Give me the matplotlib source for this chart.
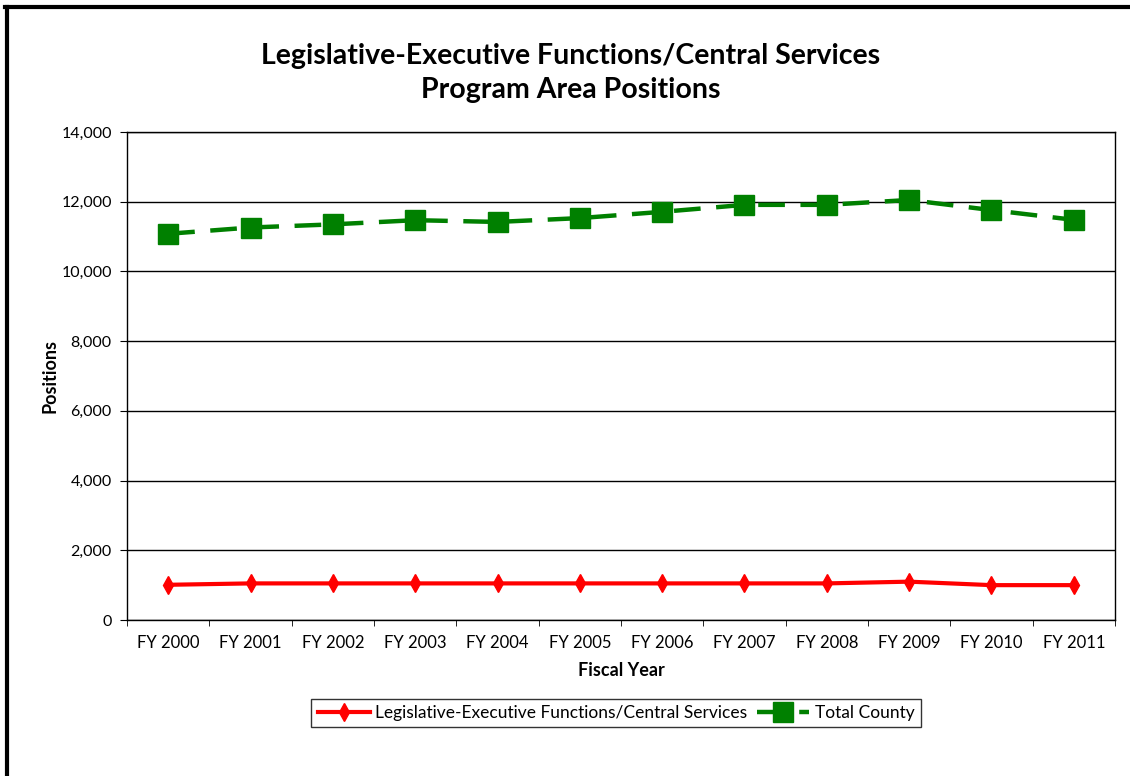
import matplotlib.pyplot as plt
from matplotlib.lines import Line2D

years = ["FY 2000", "FY 2001", "FY 2002", "FY 2003", "FY 2004", "FY 2005",
         "FY 2006", "FY 2007", "FY 2008", "FY 2009", "FY 2010", "FY 2011"]
leg_exec = [1010, 1050, 1050, 1050, 1050, 1050, 1050, 1050, 1050, 1100, 1000, 1000]
total_county = [11080, 11260, 11350, 11470, 11420, 11530, 11710, 11910, 11910, 12050, 11760, 11480]

plt.rcParams['font.family'] = ['Lato', 'DejaVu Sans']

fig = plt.figure(figsize=(11.3, 7.76), dpi=100)
ax = fig.add_axes([127 / 1130, 1 - 620 / 776, 988 / 1130, 488 / 776])

x = list(range(len(years)))
ax.plot(x, leg_exec, color='#ff0000', lw=3, marker='d', markersize=9,
        label="Legislative-Executive Functions/Central Services")
ax.plot(x, total_county, color='#008000', lw=3.2, marker='s', markersize=14,
        dashes=(6, 3.5), label="Total County")

ax.set_xlim(-0.5, len(years) - 0.5)
ax.set_ylim(0, 14000)
ax.set_yticks(range(0, 14001, 2000))
ax.set_yticklabels([f"{v:,}" for v in range(0, 14001, 2000)], fontsize=11.5)
ax.set_xticks(x)
ax.set_xticklabels(years, fontsize=12)
ax.set_xticks([i - 0.5 for i in range(len(years) + 1)], minor=True)
ax.tick_params(axis='x', which='major', length=0, pad=11)
ax.tick_params(axis='x', which='minor', length=4, direction='out')
ax.tick_params(axis='y', length=5, direction='out', pad=6)
ax.grid(axis='y', color='black', lw=1)
ax.set_axisbelow(True)
for s in ax.spines.values():
    s.set_color('black')
    s.set_linewidth(1)

ax.set_xlabel("Fiscal Year", fontsize=13, fontweight='bold', labelpad=8)
ax.set_ylabel("Positions", fontsize=13, fontweight='bold', labelpad=2)

fig.text(571 / 1130, 1 - 73 / 776, "Legislative-Executive Functions/Central Services\nProgram Area Positions",
         ha='center', va='center', fontsize=20.5, fontweight='bold', linespacing=1.38)

leg = fig.legend(loc='center', bbox_to_anchor=(616 / 1130, 1 - 713 / 776), ncol=2,
                 frameon=True, fancybox=False, edgecolor='black', fontsize=12.5,
                 handlelength=3, columnspacing=0.6, handletextpad=0.3,
                 borderpad=0.35)
leg.get_frame().set_linewidth(1)

# outer chart border (cropped at right and bottom)
fig.add_artist(Line2D([6.5 / 1130, 6.5 / 1130], [0, 1 - 6.5 / 776], color='black', lw=3,
                      transform=fig.transFigure))
fig.add_artist(Line2D([5 / 1130, 1], [1 - 6.5 / 776, 1 - 6.5 / 776], color='black', lw=3,
                      transform=fig.transFigure))

fig.savefig("out.png", dpi=100)
